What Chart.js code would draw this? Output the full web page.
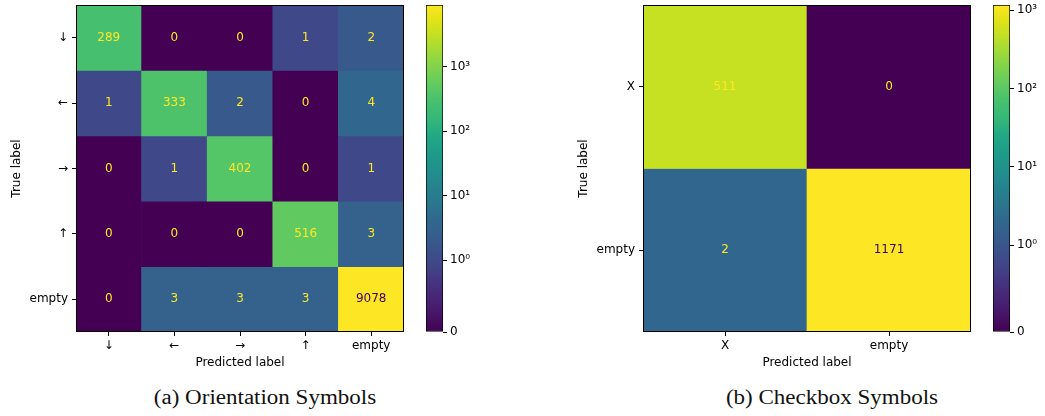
<!DOCTYPE html>
<html>
<head>
<meta charset="utf-8">
<script src="https://cdn.jsdelivr.net/npm/chart.js@4.4.1/dist/chart.umd.min.js"></script>
<style>
  html, body { margin: 0; padding: 0; background: #fff; }
  body { width: 1045px; height: 416px; position: relative; overflow: hidden; }
  canvas { position: absolute; top: 0; }
  .caption {
    position: absolute; top: 386px; width: 300px; text-align: center;
    font-family: "Liberation Serif", serif; font-size: 20px; color: #111;
    transform: scaleX(1.15); white-space: nowrap;
  }
</style>
</head>
<body>
<canvas id="cm-a" width="410" height="372" style="left:0px"></canvas>
<canvas id="cb-a" width="60" height="345" style="left:420px"></canvas>
<canvas id="cm-b" width="410" height="372" style="left:570px"></canvas>
<canvas id="cb-b" width="60" height="345" style="left:985px"></canvas>
<div class="caption" style="left:115px">(a) Orientation Symbols</div>
<div class="caption" style="left:682px">(b) Checkbox Symbols</div>
<script>
const orientLabels = ["↓", "←", "→", "↑", "empty"];
const orientCounts = [
    [289, 0, 0, 1, 2],
    [1, 333, 2, 0, 4],
    [0, 1, 402, 0, 1],
    [0, 0, 0, 516, 3],
    [0, 3, 3, 3, 9078]
];
const checkLabels = ["X", "empty"];
const checkCounts = [
    [511, 0],
    [2, 1171]
];
const colorbarTicks = [0, 1, 10, 100, 1000];
const colorbarTickLabels = ["0", "10⁰", "10¹", "10²", "10³"];

// viridis, sampled every 0.05
const viridis = ["#440154", "#471365", "#482475", "#46337f", "#414487", "#3b528b", "#355f8d",
    "#306a8e", "#2a788e", "#25848e", "#21918c", "#1e9c89", "#22a884", "#35b779", "#44bf70",
    "#5ec962", "#7ad151", "#9bd93c", "#bddf26", "#dfe318", "#fde725"];

Chart.defaults.font.family = "'DejaVu Sans', sans-serif";
Chart.defaults.font.size = 12;
Chart.defaults.color = "#000";

// matplotlib SymLogNorm, linthresh 1, base 10
const LINSCALE = 1 / (1 - 1 / 10);
function symlog(v) {
    return v <= 1 ? v * LINSCALE : LINSCALE + Math.log10(v);
}

function hexToRgb(hex) {
    return [1, 3, 5].map(i => parseInt(hex.slice(i, i + 2), 16));
}

function viridisAt(t) {
    t = Math.max(0, Math.min(1, t));
    const pos = t * (viridis.length - 1);
    const i = Math.min(Math.floor(pos), viridis.length - 2);
    const f = pos - i;
    const a = hexToRgb(viridis[i]);
    const b = hexToRgb(viridis[i + 1]);
    const c = a.map((v, k) => Math.round(v + (b[k] - v) * f));
    return `rgb(${c[0]}, ${c[1]}, ${c[2]})`;
}

function zeroPadding(scale) {
    scale.paddingTop = 0;
    scale.paddingBottom = 0;
    scale.paddingLeft = 0;
    scale.paddingRight = 0;
}

const cellTextPlugin = {
    id: "cellText",
    afterDatasetsDraw(chart) {
        const { ctx, chartArea, scales } = chart;
        const counts = chart.options.plugins.cellText.counts;
        const flat = counts.flat();
        const mid = (Math.max(...flat) + Math.min(...flat)) / 2;
        ctx.save();
        ctx.font = "12px 'DejaVu Sans', sans-serif";
        ctx.textAlign = "center";
        ctx.textBaseline = "middle";
        counts.forEach((row, r) => {
            row.forEach((val, c) => {
                ctx.fillStyle = val < mid ? viridis[viridis.length - 1] : viridis[0];
                ctx.fillText(String(val), scales.x.getPixelForValue(c), scales.y.getPixelForValue(r + 0.5));
            });
        });
        ctx.strokeStyle = "#000";
        ctx.lineWidth = 1;
        ctx.strokeRect(Math.round(chartArea.left) + 0.5, Math.round(chartArea.top) + 0.5,
            Math.round(chartArea.right - chartArea.left) - 1, Math.round(chartArea.bottom - chartArea.top) - 1);
        ctx.restore();
    }
};

function makeMatrix(canvasId, labels, counts, geom) {
    const maxT = symlog(Math.max(...counts.flat()));
    const datasets = counts.map((row, r) => ({
        data: row.map(() => [r, r + 1]),
        backgroundColor: row.map(v => viridisAt(symlog(v) / maxT)),
        borderWidth: 0,
        grouped: false,
        barPercentage: 1,
        categoryPercentage: 1
    }));

    return new Chart(document.getElementById(canvasId), {
        type: "bar",
        data: { labels: labels, datasets: datasets },
        plugins: [cellTextPlugin],
        options: {
            responsive: false,
            animation: false,
            layout: { padding: { top: 5, right: geom.padRight, left: 0, bottom: 0 } },
            plugins: {
                legend: { display: false },
                tooltip: { enabled: false },
                cellText: { counts: counts }
            },
            scales: {
                x: {
                    type: "category",
                    offset: true,
                    grid: { offset: false, drawOnChartArea: false, drawTicks: true, tickLength: 4, color: "#000" },
                    border: { display: false },
                    ticks: { padding: 3, maxRotation: 0, autoSkip: false },
                    title: { display: true, text: "Predicted label", padding: { top: 0, bottom: 2.3 } },
                    afterFit(scale) {
                        scale.height = geom.xHeight;
                        zeroPadding(scale);
                    }
                },
                y: {
                    type: "linear",
                    min: 0,
                    max: labels.length,
                    reverse: true,
                    grid: { drawOnChartArea: false, drawTicks: true, tickLength: 4, color: "#000" },
                    border: { display: false },
                    ticks: {
                        padding: 4,
                        autoSkip: false,
                        callback: (value, index) => labels[index]
                    },
                    afterBuildTicks(scale) {
                        scale.ticks = labels.map((_, i) => ({ value: i + 0.5 }));
                    },
                    title: { display: true, text: "True label", padding: { top: geom.yTitlePad, bottom: 0 } },
                    afterFit(scale) {
                        scale.width = geom.yWidth;
                        zeroPadding(scale);
                    }
                }
            }
        }
    });
}

function makeColorbar(canvasId, counts, geom) {
    const maxT = symlog(Math.max(...counts.flat()));
    const tickVals = colorbarTicks.filter(v => symlog(v) <= maxT);

    return new Chart(document.getElementById(canvasId), {
        type: "bar",
        data: {
            labels: ["scale"],
            datasets: [{
                data: [[0, maxT]],
                backgroundColor(context) {
                    const area = context.chart.chartArea;
                    if (!area) return viridis[0];
                    const grad = context.chart.ctx.createLinearGradient(0, area.bottom, 0, area.top);
                    viridis.forEach((hex, i) => grad.addColorStop(i / (viridis.length - 1), hex));
                    return grad;
                },
                borderColor: "#000",
                borderWidth: 1,
                borderSkipped: false,
                barPercentage: 1,
                categoryPercentage: 1
            }]
        },
        options: {
            responsive: false,
            animation: false,
            layout: { padding: { top: 5, left: geom.padLeft, right: 0, bottom: 13 } },
            plugins: { legend: { display: false }, tooltip: { enabled: false } },
            scales: {
                x: { display: false },
                y: {
                    type: "linear",
                    position: "right",
                    min: 0,
                    max: maxT,
                    grid: { drawOnChartArea: false, drawTicks: true, tickLength: 4, color: "#000" },
                    border: { display: false },
                    ticks: {
                        padding: 3,
                        autoSkip: false,
                        callback: (value, index) => colorbarTickLabels[index]
                    },
                    afterBuildTicks(scale) {
                        scale.ticks = tickVals.map(v => ({ value: symlog(v) }));
                    },
                    afterFit(scale) {
                        scale.width = 60 - geom.padLeft - 17;
                        zeroPadding(scale);
                    }
                }
            }
        }
    });
}

makeMatrix("cm-a", orientLabels, orientCounts, { padRight: 6, yWidth: 76, xHeight: 40, yTitlePad: 9.5 });
makeColorbar("cb-a", orientCounts, { padLeft: 6 });
makeMatrix("cm-b", checkLabels, checkCounts, { padRight: 9, yWidth: 73, xHeight: 40, yTitlePad: 6.8 });
makeColorbar("cb-b", checkCounts, { padLeft: 8 });
</script>
</body>
</html>
